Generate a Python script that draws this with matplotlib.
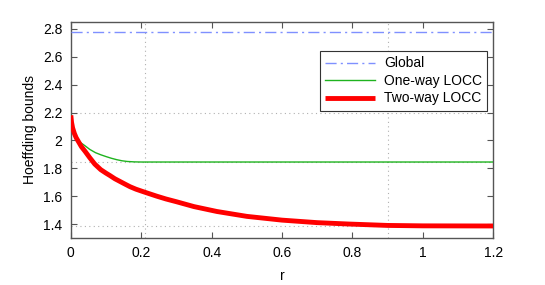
import matplotlib
matplotlib.use('Agg')
import matplotlib.pyplot as plt

plt.rcParams['font.family'] = ['Liberation Sans', 'DejaVu Sans']

# ── data ────────────────────────────────────────────────────────────────────
global_bound = 2.775
global_r = [0.0, 1.2]

one_way_r = [0.0, 0.002, 0.005, 0.01, 0.015, 0.02, 0.03, 0.04, 0.054, 0.07,
             0.085, 0.1, 0.115, 0.13, 0.145, 0.16, 0.18, 0.2, 0.25, 1.2]
one_way_val = [2.18, 2.13, 2.09, 2.05, 2.02, 2.0, 1.98, 1.962, 1.935, 1.912,
               1.897, 1.884, 1.872, 1.862, 1.854, 1.849, 1.846, 1.845, 1.845,
               1.845]

two_way_r = [0.0, 0.002, 0.005, 0.01, 0.015, 0.021, 0.03, 0.04, 0.054, 0.068,
             0.085, 0.1, 0.111, 0.125, 0.14, 0.155, 0.168, 0.185, 0.2, 0.22,
             0.244, 0.27, 0.3, 0.35, 0.415, 0.5, 0.6, 0.7, 0.79, 0.9, 1.0, 1.2]
two_way_val = [2.18, 2.13, 2.09, 2.05, 2.02, 1.994, 1.955, 1.923, 1.875, 1.83,
               1.79, 1.765, 1.748, 1.725, 1.705, 1.685, 1.668, 1.65, 1.637,
               1.62, 1.60, 1.58, 1.56, 1.525, 1.49, 1.455, 1.428, 1.41, 1.40,
               1.39, 1.387, 1.386]

marker_r = [0.21, 0.9]
marker_val = [2.2, 1.845, 1.386]

xticks = [0, 0.2, 0.4, 0.6, 0.8, 1.0, 1.2]
xticklabels = ['0', '0.2', '0.4', '0.6', '0.8', '1', '1.2']
yticks = [1.4, 1.6, 1.8, 2.0, 2.2, 2.4, 2.6, 2.8]
yticklabels = ['1.4', '1.6', '1.8', '2', '2.2', '2.4', '2.6', '2.8']

# ── figure ──────────────────────────────────────────────────────────────────
fig = plt.figure(figsize=(5.45, 2.85), dpi=100)
ax = fig.add_axes([0.130, 0.165, 0.775, 0.758])

for xv in marker_r:
    ax.axvline(xv, color='#b0b0b0', lw=0.8, ls=(0, (1, 3)), zorder=1)
for yv in marker_val:
    ax.axhline(yv, color='#b0b0b0', lw=0.8, ls=(0, (1, 3)), zorder=1)

ax.plot(global_r, [global_bound, global_bound], color='#7f90ff', lw=1.0,
        ls=(0, (8, 3, 1.5, 3)), label='Global', zorder=3)
ax.plot(one_way_r, one_way_val, color='#1fb31f', lw=1.0,
        label='One-way LOCC', zorder=3)
ax.plot(two_way_r, two_way_val, color='#ff0000', lw=3.5,
        label='Two-way LOCC', zorder=4, solid_capstyle='butt',
        solid_joinstyle='round')

ax.set_xlim(0, 1.2)
ax.set_ylim(1.3, 2.85)
ax.set_xticks(xticks)
ax.set_xticklabels(xticklabels)
ax.set_yticks(yticks)
ax.set_yticklabels(yticklabels)
ax.tick_params(direction='in', length=4, width=0.8, color='#555555',
               labelsize=10, top=True, right=True, pad=6)
for sp in ax.spines.values():
    sp.set_color('#555555')
    sp.set_linewidth(1.0)

ax.set_xlabel('r', fontsize=10, labelpad=6)
ax.set_ylabel('Hoeffding bounds', fontsize=10, labelpad=4)

leg = ax.legend(loc='upper right', bbox_to_anchor=(0.986, 0.866),
                fontsize=10, fancybox=False, framealpha=1,
                edgecolor='#333333', handlelength=3.6, borderpad=0.4,
                labelspacing=0.25, handletextpad=0.6, borderaxespad=0)
leg.get_frame().set_linewidth(0.8)

fig.savefig('out.png', dpi=100)
